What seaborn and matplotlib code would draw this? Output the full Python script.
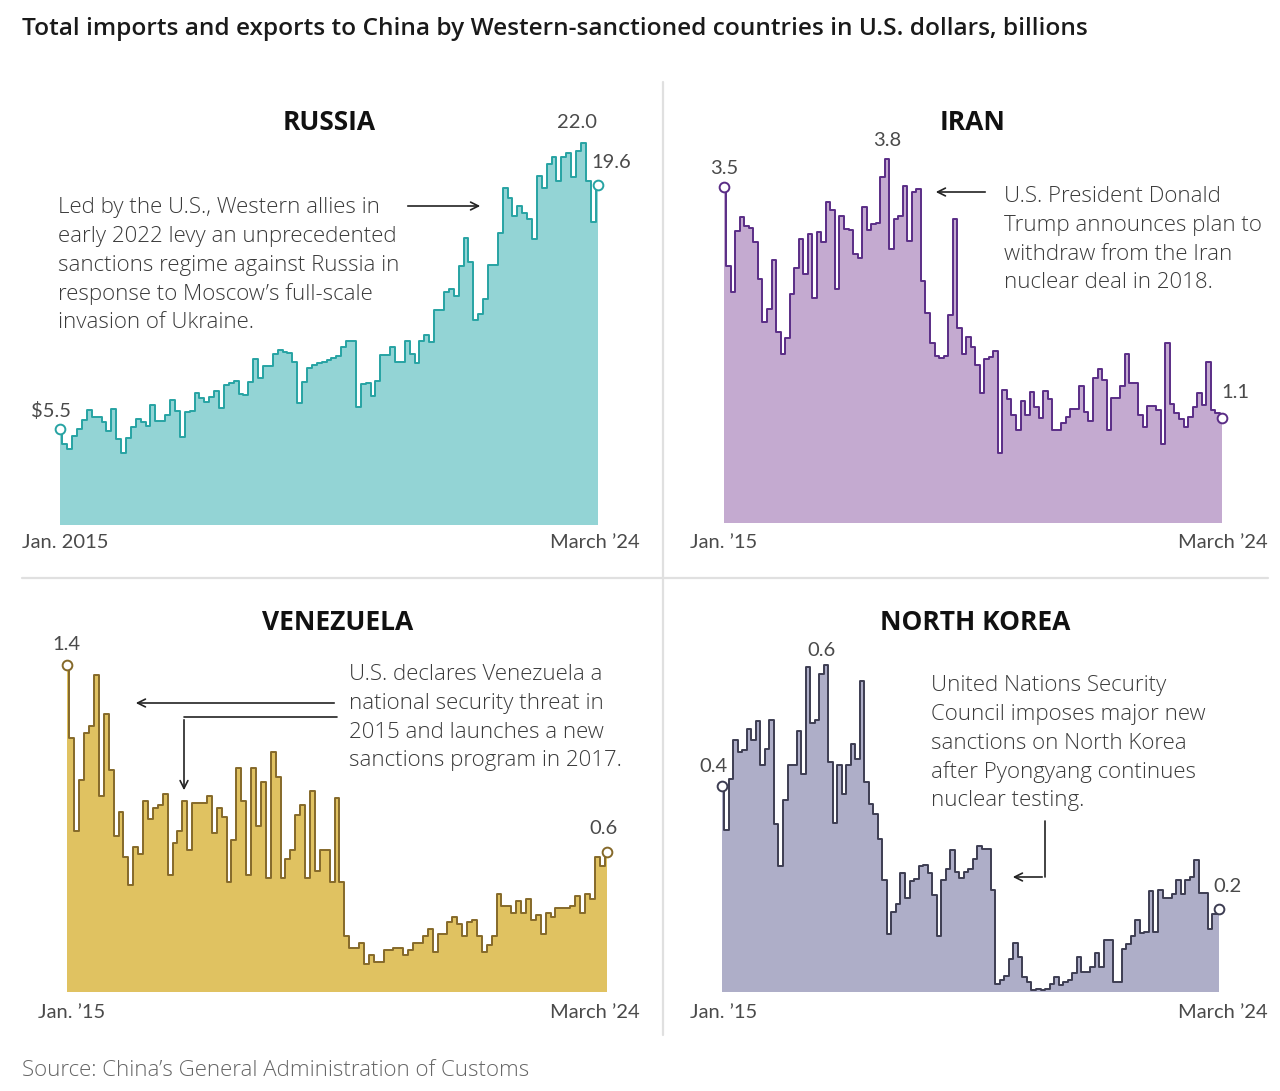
import numpy as np
import pandas as pd
import matplotlib
matplotlib.use("Agg")
import matplotlib.pyplot as plt
import seaborn as sns
from matplotlib.lines import Line2D
from matplotlib.patches import FancyArrowPatch

# ---------------- data (monthly, Jan 2015 - Mar 2024, US$ billions) ----------------
russia = [5.5, 4.66, 4.36, 5.12, 5.51, 6.05, 6.62, 6.24, 6.20, 5.95,
          5.43, 6.66, 4.95, 4.13, 4.99, 5.62, 6.10, 5.95, 5.70, 6.89,
          6.01, 6.01, 6.35, 7.20, 6.58, 5.05, 6.53, 6.58, 7.58, 7.29,
          7.06, 7.39, 7.72, 6.72, 8.06, 8.19, 8.31, 7.54, 7.48, 8.25,
          9.54, 8.45, 9.17, 9.17, 9.83, 10.08, 9.94, 9.88, 9.37, 7.01,
          8.25, 9.02, 9.21, 9.35, 9.40, 9.50, 9.60, 9.73, 10.23, 10.61,
          10.61, 6.81, 8.12, 8.20, 7.45, 8.31, 9.79, 9.79, 10.27, 9.40,
          9.40, 10.61, 9.85, 9.35, 10.61, 10.94, 10.52, 12.38, 12.38, 13.44,
          13.57, 13.19, 14.91, 16.51, 15.16, 11.80, 12.15, 12.99, 14.97, 14.97,
          16.83, 19.39, 18.81, 17.79, 18.37, 17.98, 17.60, 16.45, 20.10, 19.39,
          20.79, 21.17, 19.83, 21.17, 21.40, 20.02, 21.55, 22.0, 19.83, 17.47, 19.6]

iran = [3.5, 2.68, 2.41, 3.04, 3.19, 3.10, 3.08, 2.93, 2.54, 2.10,
        2.23, 2.74, 1.99, 1.76, 1.93, 2.39, 2.66, 2.96, 2.60, 3.01,
        2.35, 3.03, 2.93, 3.35, 3.26, 2.44, 3.20, 3.07, 3.06, 2.80,
        2.76, 3.30, 3.06, 3.12, 3.13, 3.61, 3.8, 2.86, 3.17, 3.20,
        3.51, 2.94, 3.45, 3.48, 2.52, 2.19, 1.88, 1.74, 1.72, 1.74,
        2.17, 3.17, 2.03, 1.76, 1.94, 1.84, 1.65, 1.36, 1.71, 1.73,
        1.79, 0.73, 1.39, 1.29, 1.13, 0.97, 1.27, 1.13, 1.37, 1.21,
        1.09, 1.38, 1.29, 0.97, 0.97, 1.04, 1.11, 1.19, 1.19, 1.43,
        1.16, 1.06, 1.51, 1.61, 1.49, 0.97, 1.30, 1.30, 1.43, 1.76,
        1.46, 1.46, 1.13, 1.00, 1.22, 1.22, 1.18, 0.82, 1.88, 1.24,
        1.15, 1.08, 1.00, 1.11, 1.21, 1.36, 1.23, 1.68, 1.18, 1.15, 1.1]

venezuela = [1.4, 1.09, 0.69, 0.91, 1.11, 1.14, 1.36, 0.84, 1.19, 0.95,
             0.67, 0.77, 0.58, 0.46, 0.62, 0.59, 0.82, 0.74, 0.79, 0.80,
             0.85, 0.50, 0.64, 0.69, 0.82, 0.61, 0.81, 0.81, 0.81, 0.84,
             0.68, 0.79, 0.75, 0.47, 0.65, 0.96, 0.82, 0.50, 0.96, 0.71,
             0.90, 0.49, 1.03, 0.92, 0.49, 0.57, 0.61, 0.76, 0.80, 0.49,
             0.86, 0.52, 0.61, 0.61, 0.47, 0.83, 0.47, 0.24, 0.19, 0.19,
             0.21, 0.12, 0.16, 0.13, 0.13, 0.18, 0.18, 0.19, 0.19, 0.16,
             0.18, 0.21, 0.21, 0.24, 0.27, 0.17, 0.25, 0.25, 0.30, 0.32,
             0.29, 0.24, 0.30, 0.31, 0.24, 0.17, 0.20, 0.24, 0.42, 0.37,
             0.37, 0.34, 0.39, 0.34, 0.40, 0.31, 0.33, 0.25, 0.34, 0.32,
             0.36, 0.36, 0.36, 0.37, 0.41, 0.34, 0.42, 0.40, 0.58, 0.54, 0.6]

north_korea = [0.40, 0.316, 0.415, 0.49, 0.467, 0.47, 0.512, 0.49, 0.527, 0.442,
               0.473, 0.53, 0.326, 0.246, 0.374, 0.441, 0.441, 0.507, 0.425, 0.632,
               0.523, 0.529, 0.618, 0.636, 0.447, 0.329, 0.442, 0.385, 0.441, 0.483,
               0.454, 0.606, 0.409, 0.366, 0.347, 0.298, 0.217, 0.112, 0.156, 0.172,
               0.232, 0.182, 0.216, 0.219, 0.246, 0.248, 0.232, 0.188, 0.108, 0.217,
               0.24, 0.277, 0.233, 0.222, 0.233, 0.24, 0.259, 0.285, 0.279, 0.279,
               0.198, 0.016, 0.024, 0.032, 0.065, 0.095, 0.068, 0.029, 0.019, 0.003,
               0.006, 0.003, 0.005, 0.016, 0.029, 0.013, 0.019, 0.024, 0.036, 0.069,
               0.039, 0.039, 0.049, 0.075, 0.049, 0.102, 0.102, 0.019, 0.019, 0.084,
               0.094, 0.108, 0.141, 0.115, 0.117, 0.196, 0.117, 0.199, 0.182, 0.183,
               0.19, 0.217, 0.19, 0.217, 0.224, 0.257, 0.193, 0.193, 0.123, 0.152, 0.162]

countries = ["RUSSIA", "IRAN", "VENEZUELA", "NORTH KOREA"]
start_labels = ["Jan. 2015", "Jan. \u201915", "Jan. \u201915", "Jan. \u201915"]
end_labels = ["March \u201924", "March \u201924", "March \u201924", "March \u201924"]
first_value_labels = ["$5.5", "3.5", "1.4", "0.4"]
last_value_labels = ["19.6", "1.1", "0.6", "0.2"]
peak_labels = ["22.0", "3.8", None, "0.6"]

title = ("Total imports and exports to China by Western-sanctioned countries "
         "in U.S. dollars, billions")
source = "Source: China\u2019s General Administration of Customs"

notes = {
    "RUSSIA": ["Led by the U.S., Western allies in",
               "early 2022 levy an unprecedented",
               "sanctions regime against Russia in",
               "response to Moscow\u2019s full-scale",
               "invasion of Ukraine."],
    "IRAN": ["U.S. President Donald",
             "Trump announces plan to",
             "withdraw from the Iran",
             "nuclear deal in 2018."],
    "VENEZUELA": ["U.S. declares Venezuela a",
                  "national security threat in",
                  "2015 and launches a new",
                  "sanctions program in 2017."],
    "NORTH KOREA": ["United Nations Security",
                    "Council imposes major new",
                    "sanctions on North Korea",
                    "after Pyongyang continues",
                    "nuclear testing."],
}

# ---------------- styling ----------------
W, H = 1280, 1091
sns.set_theme(style="white")
plt.rcParams["font.family"] = ["Lato", "DejaVu Sans"]
WIDE = ["Open Sans", "DejaVu Sans"]

def fx(x):
    return x / W

def fy(y):
    return 1 - y / H

fig = plt.figure(figsize=(W / 100, H / 100), dpi=100)
fig.patch.set_facecolor("white")

layout = {
    "RUSSIA":      dict(data=russia, x0=60, x1=598, base=525, top=100, ppu=17.37,
                        fill="#93d4d5", line="#27a3a3", title_xy=(329, 123)),
    "IRAN":        dict(data=iran, x0=724, x1=1222, base=523, top=100, ppu=95.9,
                        fill="#c4aad0", line="#5a2d86", title_xy=(973, 123)),
    "VENEZUELA":   dict(data=venezuela, x0=67, x1=607, base=992, top=600, ppu=233.3,
                        fill="#e0c261", line="#85692a", title_xy=(338, 623)),
    "NORTH KOREA": dict(data=north_korea, x0=722, x1=1219, base=992, top=600, ppu=514,
                        fill="#aeaec8", line="#3d3d52", title_xy=(975, 623)),
}

TXT = "#3a3a3a"
NUM = "#4a4a4a"

for i, name in enumerate(countries):
    p = layout[name]
    ax = fig.add_axes([fx(p["x0"]), fy(p["base"]),
                       (p["x1"] - p["x0"]) / W, (p["base"] - p["top"]) / H])
    df = pd.DataFrame({"month": np.arange(len(p["data"])), "value": p["data"]})
    ax.fill_between(df["month"], df["value"], step="mid", color=p["fill"], lw=0)
    sns.lineplot(data=df, x="month", y="value", ax=ax, color=p["line"], lw=1.4,
                 drawstyle="steps-mid", estimator=None)
    ax.plot([df["month"].iloc[0], df["month"].iloc[-1]],
            [df["value"].iloc[0], df["value"].iloc[-1]], "o", mfc="white",
            mec=p["line"], ms=7, mew=1.4, clip_on=False, zorder=5)
    ax.set_xlim(0, len(p["data"]) - 1)
    ax.set_ylim(0, (p["base"] - p["top"]) / p["ppu"])
    ax.set_axis_off()

    tx, ty = p["title_xy"]
    fig.text(fx(tx), fy(ty), name, ha="center", va="center", fontsize=19,
             fontweight="bold", color="#111111", family=WIDE)

# x-axis end labels
fig.text(fx(22), fy(543), start_labels[0], ha="left", va="center", fontsize=14.5, color=NUM)
fig.text(fx(640), fy(543), end_labels[0], ha="right", va="center", fontsize=14.5, color=NUM)
fig.text(fx(690), fy(543), start_labels[1], ha="left", va="center", fontsize=14.5, color=NUM)
fig.text(fx(1268), fy(543), end_labels[1], ha="right", va="center", fontsize=14.5, color=NUM)
fig.text(fx(38), fy(1012), start_labels[2], ha="left", va="center", fontsize=14.5, color=NUM)
fig.text(fx(640), fy(1012), end_labels[2], ha="right", va="center", fontsize=14.5, color=NUM)
fig.text(fx(690), fy(1012), start_labels[3], ha="left", va="center", fontsize=14.5, color=NUM)
fig.text(fx(1268), fy(1012), end_labels[3], ha="right", va="center", fontsize=14.5, color=NUM)

# value labels
fig.text(fx(71), fy(411), first_value_labels[0], ha="right", va="center", fontsize=14.5, color=NUM)
fig.text(fx(577), fy(122), peak_labels[0], ha="center", va="center", fontsize=14.5, color=NUM)
fig.text(fx(591), fy(162), last_value_labels[0], ha="left", va="center", fontsize=14.5, color=NUM)
fig.text(fx(724), fy(168), first_value_labels[1], ha="center", va="center", fontsize=14.5, color=NUM)
fig.text(fx(887), fy(140), peak_labels[1], ha="center", va="center", fontsize=14.5, color=NUM)
fig.text(fx(1221), fy(393), last_value_labels[1], ha="left", va="center", fontsize=14.5, color=NUM)
fig.text(fx(66), fy(645), first_value_labels[2], ha="center", va="center", fontsize=14.5, color=NUM)
fig.text(fx(604), fy(828), last_value_labels[2], ha="center", va="center", fontsize=14.5, color=NUM)
fig.text(fx(714), fy(767), first_value_labels[3], ha="center", va="center", fontsize=14.5, color=NUM)
fig.text(fx(821), fy(650), peak_labels[3], ha="center", va="center", fontsize=14.5, color=NUM)
fig.text(fx(1213), fy(887), last_value_labels[3], ha="left", va="center", fontsize=14.5, color=NUM)

# annotations
note_pos = {"RUSSIA": (58, 208), "IRAN": (1004, 197),
            "VENEZUELA": (349, 675), "NORTH KOREA": (931, 686)}
for name, lines in notes.items():
    x, y = note_pos[name]
    for k, line in enumerate(lines):
        fig.text(fx(x), fy(y + k * 28.6), line, ha="left", va="center",
                 fontsize=16, color=TXT, family=WIDE, fontweight="light")

def arrow(x0, y0, x1, y1):
    fig.add_artist(FancyArrowPatch((fx(x0), fy(y0)), (fx(x1), fy(y1)),
                                   transform=fig.transFigure, arrowstyle="->",
                                   mutation_scale=14, lw=1.2, color="#222222"))

def seg(xs, ys):
    fig.add_artist(Line2D([fx(v) for v in xs], [fy(v) for v in ys],
                          color="#222222", lw=1.2))

arrow(405, 206, 483, 206)          # Russia
arrow(988, 192, 933, 192)          # Iran
arrow(337, 703, 133, 703)          # Venezuela 2015
seg([337, 184], [717, 717])        # Venezuela 2017 elbow
arrow(184, 717, 184, 793)
seg([1045, 1045], [821, 877])      # North Korea elbow
arrow(1045, 877, 1010, 877)

# dividers
fig.add_artist(Line2D([fx(663), fx(663)], [fy(82), fy(1035)], color="#e0e0e0", lw=1.6))
fig.add_artist(Line2D([fx(22), fx(1268)], [fy(578), fy(578)], color="#e0e0e0", lw=1.6))

fig.text(fx(22), fy(29), title, ha="left", va="center", fontsize=17.6,
         fontweight="semibold", color="#1a1a1a", family=WIDE)
fig.text(fx(22), fy(1070), source, ha="left", va="center", fontsize=16,
         color="#666666", family=WIDE, fontweight="light")

fig.savefig("out.png", dpi=100, facecolor="white")
